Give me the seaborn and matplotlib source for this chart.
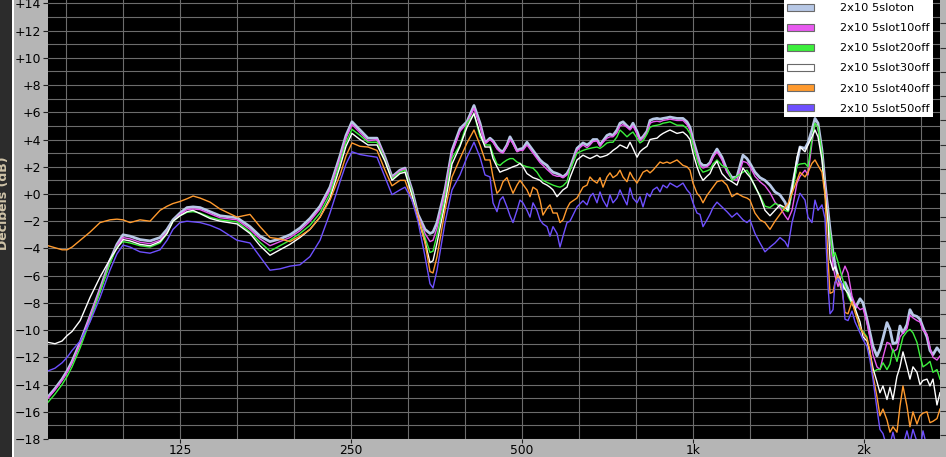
"""Frequency response overlay, 2x10 cabinet with slots closed one by one."""
import matplotlib

matplotlib.use("Agg")
import matplotlib.pyplot as plt
import seaborn as sns
from matplotlib.patches import Patch, Rectangle
from matplotlib.ticker import FixedLocator

FREQ_HZ = [
    73.2, 75.3, 77.5, 79.1, 80.7, 83.4, 86.8, 90.4, 94.1, 96.8, 99.2, 102.1, 106.3, 110.7, 115.3, 118.6, 121.5, 125.0, 128.6, 131.8, 135.6,
    141.2, 147.0, 157.5, 166.0, 172.9, 180.0, 187.5, 195.2, 203.3, 211.7, 220.5, 229.6, 239.1, 245.0, 251.0, 259.3, 267.8, 277.8, 286.9, 295.2, 304.9, 311.2, 320.1, 328.0, 337.5, 344.4, 348.6, 354.3, 366.0, 376.5, 388.9,
    400.1, 411.6, 421.8, 430.4, 439.2, 444.6, 451.8, 457.3, 462.9, 470.5, 476.3, 482.1, 490.0, 496.0, 502.0, 510.2, 516.5, 522.8, 531.4, 537.9, 544.4, 553.4, 560.1, 567.0, 576.3, 583.3, 590.4, 600.1, 607.4, 624.9, 640.3, 650.8, 658.7, 666.8, 677.7, 686.0, 694.4, 705.7, 714.3, 723.1, 734.9, 743.9, 753.0, 765.3, 774.7, 784.1, 797.0, 806.7, 816.6, 829.9, 840.1, 850.4, 864.3, 874.8, 885.6, 900.0, 911.0, 937.2, 960.3, 976.0, 988.0, 1000.0, 1016.4, 1028.8, 1041.4, 1058.4, 1071.3, 1084.4, 1102.2,
    1124.7, 1147.7, 1171.2, 1195.2, 1224.6, 1244.6, 1259.9, 1285.7, 1312.0, 1339.0, 1366.4, 1394.4, 1423.0, 1452.1, 1469.9, 1493.9, 1524.5, 1543.1, 1574.8, 1594.0, 1620.0, 1639.9, 1660.0, 1687.1, 1707.8, 1728.8, 1742.9, 1764.1, 1778.5, 1800.3, 1829.6, 1852.0, 1874.6, 1905.4, 1928.8, 1968.3, 1992.4, 2024.4, 2049.3, 2074.4, 2108.3, 2134.0, 2160.1, 2195.5, 2222.3, 2249.5, 2286.3, 2314.3, 2342.6, 2380.9, 2410.0, 2439.5, 2479.4, 2509.8, 2540.5, 2582.0, 2613.6, 2645.6, 2688.9, 2721.8,
]

SLOT_ON = [
    -14.9, -14.3, -13.6, -13.0, -12.3, -10.9, -9.0, -7.0, -4.9, -3.7, -3.0, -3.1, -3.35, -3.45, -3.2, -2.6, -1.9, -1.4, -1.0, -0.95, -1.0,
    -1.3, -1.6, -1.75, -2.4, -3.1, -3.5, -3.3, -3.0, -2.5, -1.8, -0.9, 0.5, 2.8, 4.3, 5.3, 4.7, 4.1, 4.1, 2.7, 1.25, 1.75, 1.9, 0.3, -1.5, -2.6, -2.9, -2.8, -2.1, 0.3, 3.2, 4.8,
    5.3, 6.5, 5.2, 3.75, 4.1, 3.9, 3.45, 3.2, 3.1, 3.6, 4.2, 3.8, 3.2, 3.3, 3.35, 3.8, 3.5, 3.2, 2.8, 2.5, 2.3, 2.1, 1.8, 1.6, 1.5, 1.4, 1.25, 1.5, 1.9, 3.35, 3.75, 3.6, 3.75, 4.0, 4.0, 3.6, 3.9, 4.3, 4.4, 4.3, 4.7, 5.2, 5.3, 5.0, 4.8, 5.2, 4.6, 4.0, 4.2, 4.6, 5.4, 5.5, 5.55, 5.5, 5.55, 5.6, 5.65, 5.55, 5.55, 5.3, 4.9, 4.0, 3.0, 2.3, 2.1, 2.1, 2.3, 2.8, 3.3,
    2.7, 1.75, 1.2, 1.25, 2.85, 2.6, 2.25, 1.6, 1.2, 1.0, 0.65, 0.15, -0.07, -0.6, -1.2, 0.45, 2.35, 3.45, 3.35, 3.75, 4.7, 5.55, 5.2, 3.2, 0.8, -1.2, -2.6, -4.3, -5.2, -6.1, -7.0, -6.5, -7.0, -7.8, -8.4, -7.7, -8.0, -9.2, -10.2, -11.2, -11.9, -11.4, -10.6, -9.45, -9.95, -11.0, -10.9, -9.7, -10.2, -9.6, -8.5, -8.9, -9.0, -9.2, -9.8, -10.5, -11.5, -11.8, -11.3, -11.6,
]

SLOT10_OFF = [
    -15.0, -14.4, -13.7, -13.1, -12.4, -11.0, -9.0, -7.0, -5.0, -3.8, -3.2, -3.3, -3.55, -3.65, -3.4, -2.8, -2.0, -1.5, -1.15, -1.1, -1.15,
    -1.45, -1.75, -1.9, -2.6, -3.3, -3.8, -3.5, -3.2, -2.7, -2.0, -1.1, 0.3, 2.6, 4.1, 5.1, 4.5, 3.9, 4.0, 2.6, 1.2, 1.7, 1.85, 0.2, -1.6, -2.9, -3.5, -3.4, -2.5, 0.1, 3.0, 4.6,
    5.2, 6.3, 5.0, 3.7, 4.0, 3.8, 3.3, 3.1, 3.0, 3.5, 4.0, 3.7, 3.1, 3.2, 3.2, 3.6, 3.3, 3.0, 2.6, 2.3, 2.1, 1.8, 1.6, 1.4, 1.3, 1.3, 1.2, 1.4, 1.8, 3.2, 3.6, 3.4, 3.6, 3.85, 3.9, 3.5, 3.8, 4.1, 4.2, 4.2, 4.5, 5.0, 5.1, 4.9, 4.7, 5.0, 4.4, 3.9, 4.1, 4.5, 5.2, 5.3, 5.35, 5.3, 5.4, 5.45, 5.5, 5.4, 5.4, 5.1, 4.7, 3.8, 2.8, 2.1, 1.9, 2.0, 2.2, 2.7, 3.1,
    2.5, 1.6, 1.1, 1.0, 2.4, 2.3, 2.0, 1.3, 0.9, 0.6, 0.1, -0.6, -1.0, -1.6, -1.9, -1.2, 0.8, 1.3, 1.75, 1.4, 3.75, 5.2, 4.9, 3.0, 0.6, -1.6, -3.0, -5.35, -6.0, -6.8, -5.9, -5.3, -5.8, -7.5, -8.1, -8.5, -8.4, -9.45, -10.6, -11.8, -12.7, -12.9, -12.0, -10.9, -11.0, -11.6, -11.4, -10.5, -10.2, -9.9, -8.9, -9.1, -9.3, -9.4, -10.0, -10.3, -11.3, -12.0, -12.2, -11.9,
]

SLOT20_OFF = [
    -15.3, -14.7, -14.0, -13.4, -12.7, -11.3, -9.3, -7.2, -5.1, -3.9, -3.5, -3.6, -3.8, -3.9, -3.6, -2.9, -2.0, -1.6, -1.35, -1.3, -1.4,
    -1.7, -1.9, -2.05, -2.8, -3.55, -4.2, -3.8, -3.4, -2.9, -2.3, -1.4, 0.0, 2.3, 3.8, 4.75, 4.3, 3.8, 3.8, 2.5, 1.1, 1.6, 1.75, 0.1, -1.7, -3.2, -4.3, -4.2, -3.0, -0.3, 2.6, 3.6,
    5.2, 5.9, 4.2, 3.6, 3.6, 2.9, 2.2, 2.1, 2.3, 2.5, 2.6, 2.6, 2.35, 2.25, 2.1, 2.0, 1.95, 1.9, 1.6, 1.25, 1.0, 0.85, 0.75, 0.65, 0.55, 0.5, 0.6, 0.9, 1.75, 3.0, 3.2, 3.3, 3.35, 3.4, 3.45, 3.35, 3.5, 3.75, 3.8, 3.8, 4.2, 4.7, 4.5, 4.2, 4.4, 4.55, 4.1, 3.75, 3.9, 4.4, 4.9, 5.0, 5.05, 5.1, 5.2, 5.25, 5.3, 5.05, 5.05, 4.8, 4.45, 3.6, 2.5, 1.9, 1.6, 1.7, 1.8, 2.2, 2.5,
    2.1, 1.9, 1.0, 1.3, 1.6, 1.75, 1.4, 0.5, -0.1, -0.9, -1.0, -0.7, -0.85, -1.2, -1.3, 0.05, 2.1, 2.2, 2.25, 2.0, 4.0, 5.2, 4.9, 3.0, 0.05, -1.8, -2.9, -4.6, -4.3, -5.0, -6.1, -6.8, -7.5, -8.1, -8.4, -9.95, -10.1, -10.5, -11.9, -13.1, -12.9, -12.9, -12.4, -12.9, -12.5, -11.4, -12.3, -11.4, -10.5, -10.1, -9.95, -10.2, -10.9, -11.9, -12.7, -12.5, -12.3, -13.1, -12.9, -13.6,
]

SLOT30_OFF = [
    -10.9, -11.0, -10.8, -10.4, -10.1, -9.3, -7.6, -6.1, -4.8, -4.0, -3.35, -3.45, -3.7, -3.8, -3.5, -2.9, -2.0, -1.6, -1.3, -1.2, -1.45,
    -1.8, -2.0, -2.2, -2.9, -3.8, -4.5, -4.1, -3.7, -3.2, -2.6, -1.7, -0.3, 2.0, 3.5, 4.45, 4.0, 3.6, 3.6, 2.4, 1.0, 1.5, 1.6, -0.1, -1.8, -3.5, -5.05, -4.9, -3.6, -0.7, 2.2, 3.5,
    4.9, 5.9, 4.45, 3.45, 3.45, 2.6, 2.0, 1.6, 1.7, 1.8, 1.9, 2.0, 2.1, 2.25, 2.0, 1.5, 1.35, 1.2, 1.1, 1.0, 0.8, 0.65, 0.5, 0.3, -0.2, 0.05, 0.3, 0.5, 1.2, 2.5, 2.85, 2.7, 2.6, 2.7, 2.85, 2.7, 2.75, 2.85, 3.0, 3.2, 3.4, 3.6, 3.5, 3.35, 3.8, 3.35, 2.7, 3.1, 3.3, 3.5, 4.0, 4.05, 4.1, 4.3, 4.45, 4.6, 4.7, 4.45, 4.55, 4.3, 4.0, 3.0, 2.0, 1.4, 1.0, 1.3, 1.5, 2.0, 2.4,
    1.5, 1.1, 0.9, 0.65, 1.9, 1.5, 1.25, 0.6, -0.2, -1.2, -1.6, -1.2, -0.8, -1.0, -1.2, 0.3, 2.7, 3.45, 3.1, 3.6, 4.2, 4.7, 4.2, 2.5, 0.05, -2.0, -4.8, -5.6, -5.35, -5.9, -6.6, -7.0, -7.3, -8.0, -8.4, -9.4, -10.5, -10.8, -11.65, -12.8, -13.8, -14.6, -14.1, -15.1, -14.2, -15.1, -13.4, -12.7, -11.6, -12.7, -13.6, -12.7, -13.1, -14.0, -13.7, -13.6, -14.1, -13.6, -15.5, -14.6,
]

SLOT40_OFF = [
    -3.8, -3.95, -4.1, -4.1, -3.9, -3.4, -2.8, -2.1, -1.9, -1.85, -1.9, -2.1, -1.9, -2.0, -1.2, -0.9, -0.7, -0.55, -0.35, -0.15, -0.3,
    -0.6, -1.1, -1.7, -1.5, -2.4, -3.2, -3.3, -3.5, -3.1, -2.6, -1.7, -0.45, 1.4, 2.8, 3.75, 3.5, 3.45, 3.2, 1.75, 0.6, 1.0, 1.0, -0.45, -1.6, -3.6, -5.7, -5.8, -4.6, -1.2, 1.25, 2.6,
    3.75, 4.7, 3.6, 2.5, 2.5, 1.25, 0.05, 0.3, 0.9, 1.2, 0.6, 0.05, 0.65, 1.0, 0.7, 0.3, -0.2, 0.5, 0.3, -0.45, -1.55, -1.05, -0.8, -1.4, -1.4, -2.1, -1.9, -1.05, -0.65, -0.3, 0.5, 0.65, 1.25, 1.0, 0.8, 1.2, 0.5, 1.25, 1.55, 1.2, 1.4, 1.75, 1.25, 0.9, 1.6, 1.2, 0.8, 1.2, 1.6, 1.75, 1.55, 1.75, 2.1, 2.35, 2.25, 2.35, 2.25, 2.5, 2.1, 2.0, 1.75, 0.8, 0.05, -0.2, -0.65, -0.1, 0.2, 0.5, 0.9,
    1.0, 0.65, -0.2, 0.05, -0.2, -0.3, -0.45, -1.4, -1.9, -2.1, -2.6, -2.0, -1.5, -1.0, -0.7, 0.05, 1.0, 1.6, 1.25, 1.6, 2.25, 2.5, 2.1, 1.6, -0.1, -4.8, -7.3, -7.2, -6.5, -5.9, -7.0, -8.7, -8.8, -7.9, -8.7, -9.8, -10.2, -10.6, -11.5, -13.3, -14.9, -16.3, -15.8, -16.6, -17.5, -17.1, -17.5, -15.6, -14.1, -15.6, -17.1, -16.0, -16.9, -16.3, -16.1, -16.0, -16.8, -16.7, -16.5, -15.8,
]

SLOT50_OFF = [
    -13.0, -12.8, -12.4, -12.0, -11.5, -10.8, -9.4, -7.6, -5.6, -4.4, -3.75, -3.9, -4.25, -4.35, -4.1, -3.4, -2.6, -2.1, -2.0, -2.05, -2.1,
    -2.3, -2.6, -3.4, -3.6, -4.6, -5.6, -5.5, -5.3, -5.2, -4.6, -3.4, -1.4, 0.9, 2.2, 3.1, 2.9, 2.8, 2.7, 1.25, -0.05, 0.3, 0.5, -0.45, -2.0, -4.6, -6.6, -6.9, -5.6, -2.1, 0.3, 1.4,
    2.7, 3.8, 2.7, 1.4, 1.25, -0.65, -1.3, -0.45, -0.2, -0.95, -1.6, -2.1, -1.2, -0.45, -0.65, -1.2, -1.7, -0.65, -1.2, -1.9, -2.2, -2.4, -3.1, -2.4, -2.9, -3.9, -3.1, -2.1, -2.0, -0.95, -0.5, -0.8, -0.2, 0.05, -0.65, 0.15, -0.45, -0.95, -0.07, -0.65, -0.3, 0.3, -0.2, -0.8, 0.45, -0.3, -0.65, -0.2, -0.95, 0.05, -0.2, 0.3, 0.5, 0.15, 0.65, 0.45, 0.8, 0.5, 0.8, 0.3, 0.05, -0.65, -1.4, -1.5, -2.4, -1.9, -1.5, -1.0, -0.6,
    -0.95, -1.3, -1.7, -1.4, -1.9, -2.1, -1.9, -2.9, -3.6, -4.25, -3.9, -3.6, -3.2, -3.5, -3.9, -2.1, -0.65, 0.05, -0.45, -1.7, -2.1, -0.45, -1.2, -0.8, -1.8, -6.8, -8.8, -8.5, -6.5, -6.2, -6.6, -9.2, -9.3, -8.6, -9.4, -10.2, -10.7, -11.2, -12.2, -13.6, -15.8, -17.3, -17.6, -18.6, -18.4, -17.5, -18.7, -18.9, -18.5, -17.4, -18.3, -17.3, -18.2, -18.8, -17.4, -18.6, -18.9, -18.8, -18.6, -18.7,
]

SERIES_NAMES = [
    "2x10 5sloton",
    "2x10 5slot10off",
    "2x10 5slot20off",
    "2x10 5slot30off",
    "2x10 5slot40off",
    "2x10 5slot50off",
]
SERIES_VALUES = [SLOT_ON, SLOT10_OFF, SLOT20_OFF, SLOT30_OFF, SLOT40_OFF, SLOT50_OFF]
COLORS = ["#b7c8e6", "#e85af0", "#3cf03c", "#ffffff", "#ff9a2e", "#6e50ff"]

X_TICKS = [125, 250, 500, 1000, 2000]
X_TICK_LABELS = ["125", "250", "500", "1k", "2k"]
Y_TICKS = list(range(14, -19, -2))
Y_TICK_LABELS = ["+14", "+12", "+10", "+8", "+6", "+4", "+2", "+0",
                 "\u22122", "\u22124", "\u22126", "\u22128", "\u221210", "\u221212",
                 "\u221214", "\u221216", "\u221218"]

W, H = 946, 457
PANEL = "#b5b5b5"
GRID = "#6c6c6c"

fig = plt.figure(figsize=(W / 100, H / 100), dpi=100, facecolor=PANEL)
ax = fig.add_axes([48 / W, 18 / H, 892 / W, 439 / H], facecolor="black")

# dark strip with the clipped axis title on the far left
fig.patches.append(Rectangle((0, 0), 12 / W, 1, transform=fig.transFigure,
                             facecolor="#2c2c2c", edgecolor="none", zorder=0))
fig.patches.append(Rectangle((12 / W, 0), 1.5 / W, 1, transform=fig.transFigure,
                             facecolor="white", edgecolor="none", zorder=0))
fig.text(3.5 / W, 1 - 203 / H, "Decibels (dB)", rotation=90, ha="center", va="center",
         fontsize=9, color="#cfc3a8", fontweight="bold")

for vals, color, lw, z in zip(SERIES_VALUES, COLORS, [2.0, 1.0, 1.0, 1.0, 1.0, 1.0],
                              [2, 3, 4, 5, 6, 7]):
    sns.lineplot(x=FREQ_HZ, y=vals, ax=ax, color=color, linewidth=lw,
                 estimator=None, legend=False, zorder=z)

ax.set_xscale("log")
ax.set_xlim(73.2, 2722)
ax.set_ylim(-18, 14.25)

ax.xaxis.set_major_locator(FixedLocator(X_TICKS))
ax.set_xticklabels(X_TICK_LABELS)
ax.xaxis.set_minor_locator(FixedLocator([125 * 2 ** (k / 3) for k in range(-2, 14)]))
ax.xaxis.set_minor_formatter(plt.NullFormatter())
ax.set_yticks(Y_TICKS)
ax.set_yticklabels(Y_TICK_LABELS)
ax.yaxis.set_minor_locator(FixedLocator(list(range(-17, 15, 2))))

ax.grid(which="both", color=GRID, linewidth=0.8)
ax.set_axisbelow(True)
ax.tick_params(which="major", direction="out", length=3.5, width=0.8, color="#202020",
               labelsize=9, labelcolor="black", pad=1.5)
ax.tick_params(which="minor", length=0)
ax.tick_params(axis="x", length=3, pad=0.8, labelsize=8.8)
for s in ax.spines.values():
    s.set_visible(False)
ax.set_xlabel("")
ax.set_ylabel("")

# small ticks on the right edge
ax2 = ax.twinx()
ax2.set_ylim(ax.get_ylim())
ax2.set_yticks([12.53 - 1.78 * k for k in range(18)])
ax2.tick_params(axis="y", direction="out", length=4, width=0.8, color="#303030",
                labelright=False)
for s in ax2.spines.values():
    s.set_visible(False)

handles = [Patch(facecolor=c, edgecolor="#6a6a6a", linewidth=0.8, label=n)
           for n, c in zip(SERIES_NAMES, COLORS)]
leg = ax2.legend(handles=handles, loc="upper right", bbox_to_anchor=(933 / W, 1.0),
                 bbox_transform=fig.transFigure, fontsize=8.2, frameon=True,
                 fancybox=False, framealpha=1, facecolor="white", edgecolor="white",
                 borderpad=0.3, borderaxespad=0, handlelength=2.35, handleheight=0.68,
                 handletextpad=2.3, labelspacing=0.88)
leg.get_frame().set_linewidth(0)

fig.savefig("out.png", dpi=100, facecolor=PANEL)
